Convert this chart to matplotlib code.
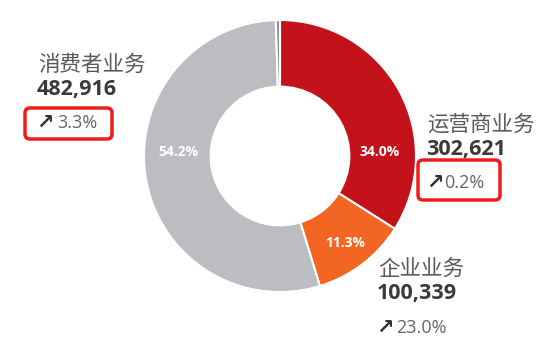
import matplotlib
matplotlib.use("Agg")
import matplotlib.pyplot as plt
from matplotlib.patches import FancyBboxPatch

# ---- data ----
segments = ["运营商业务", "企业业务", "消费者业务", "其他"]
revenue = [302621, 100339, 482916, 4400]
pct_labels = ["34.0%", "11.3%", "54.2%", ""]
growth = ["0.2%", "23.0%", "3.3%"]
colors = ["#C4121B", "#F26522", "#BCBDC0", "#8E8F92"]

W, H = 550, 352
fig = plt.figure(figsize=(W / 100, H / 100), dpi=100)
ax = fig.add_axes([0, 0, 1, 1])

cx, cy, R = 280, 156, 136
ax.pie(revenue, colors=colors, startangle=-90, counterclock=True,
       center=(cx, cy), radius=R,
       wedgeprops=dict(width=R * 0.49, edgecolor="white", linewidth=1.5))
ax.set_xlim(0, W)
ax.set_ylim(H, 0)
ax.set_aspect("equal")
ax.axis("off")

cjk = ["Noto Sans CJK SC", "DejaVu Sans"]
num = ["Open Sans", "DejaVu Sans"]
gray_txt = "#595959"
dark_txt = "#3A3A3A"
box_red = "#EE1C1C"

# percentage labels inside ring
pct_pos = [(380, 152), (345, 243), (178, 152)]
for (x, y), t in zip(pct_pos, pct_labels[:3]):
    ax.text(x, y, t, color="white", fontsize=10, fontweight="bold",
            family=num, ha="center", va="center")

# side annotations: (name x, name baseline, number baseline, growth baseline, arrow x, growth x)
ann = {
    2: (38, 71, 95, 128, 36, 57),
    0: (427, 131, 155, 188, 426, 444),
    1: (378, 275, 299, 333, 376, 396),
}
for i, (x, yb, nb, gb, axx, gx) in ann.items():
    ax.text(x, yb, segments[i], fontsize=15.5, color=gray_txt, family=cjk,
            ha="left", va="baseline")
    ax.text(x - 1, nb, f"{revenue[i]:,}", fontsize=15.5, color=dark_txt,
            fontweight="bold", family=num, ha="left", va="baseline")
    ax.text(axx, gb + 0.5, "↗", fontsize=15, color="#333333", fontweight="bold",
            family=["DejaVu Sans"], ha="left", va="baseline")
    ax.text(gx, gb, growth[i], fontsize=13, color="#666666", family=num,
            ha="left", va="baseline")

# red highlight boxes
for (x0, y0, x1, y1) in [(25, 108, 112, 139), (418, 160, 500, 200)]:
    ax.add_patch(FancyBboxPatch((x0, y0), x1 - x0, y1 - y0,
                                boxstyle="round,pad=0,rounding_size=5",
                                fill=False, edgecolor=box_red, linewidth=2.5))

fig.savefig("out.png", dpi=100)
